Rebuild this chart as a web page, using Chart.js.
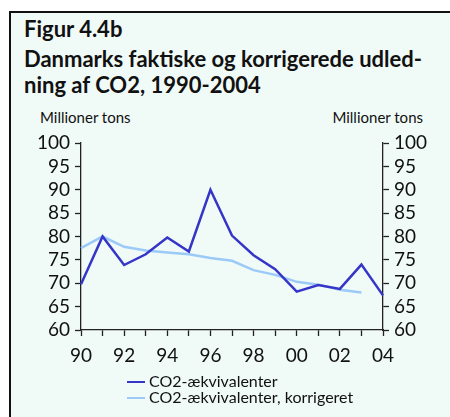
<!DOCTYPE html>
<html>
<head>
<meta charset="utf-8">
<script src="https://cdn.jsdelivr.net/npm/chart.js@4"></script>
<style>
  body { margin: 0; width: 450px; height: 417px; background: #fff; position: relative; overflow: hidden; font-family: Lato, sans-serif; }
  #panel { position: absolute; left: 9px; top: 11px; width: 441px; height: 406px; border-top: 2px solid #111; border-left: 2px solid #111; background: #f0faf7; }
  .title { position: absolute; left: 24px; font-weight: bold; font-size: 22px; color: #111; line-height: 26px; }
  .unit { position: absolute; top: 108px; font-size: 15px; color: #111; }
  #chartWrap { position: absolute; left: 0; top: 0; width: 450px; height: 417px; }
  .leg { position: absolute; left: 127px; font-size: 16px; color: #111; }
  .leg span { display: inline-block; width: 18px; height: 2px; vertical-align: middle; margin-right: 4px; position: relative; top: -1px; }
</style>
</head>
<body>
<div id="panel"></div>
<div class="title" style="top:16px">Figur 4.4b</div>
<div class="title" style="top:46px">Danmarks faktiske og korrigerede udled-<br>ning af CO2, 1990-2004</div>
<div class="unit" style="left:40px">Millioner tons</div>
<div class="unit" style="right:27px">Millioner tons</div>
<div id="chartWrap"><canvas id="chart" width="450" height="417"></canvas></div>
<div class="leg" style="top:371px"><span style="background:#3535c8"></span>CO2-ækvivalenter</div>
<div class="leg" style="top:387px"><span style="background:#9ccaf8"></span>CO2-ækvivalenter, korrigeret</div>
<script>
// data
const years = ['90','91','92','93','94','95','96','97','98','99','00','01','02','03','04'];
const actual = [69.8, 80.0, 73.9, 76.2, 79.8, 76.8, 90.0, 80.2, 76.0, 73.0, 68.2, 69.6, 68.8, 74.0, 67.4];
const corrected = [77.5, 80.0, 77.8, 77.0, 76.6, 76.2, 75.4, 74.8, 72.8, 71.8, 70.3, 69.7, 68.6, 68.0, null];
const yTicks = [60, 65, 70, 75, 80, 85, 90, 95, 100];

const tickFont = { family: 'Lato', size: 19 };
const axisCommon = {
    min: 60, max: 100,
    afterBuildTicks: s => { s.ticks = yTicks.map(v => ({ value: v })); },
    grid: { drawOnChartArea: false, color: '#222', tickLength: 6, tickWidth: 1.3 },
    border: { color: '#222', width: 1.3 },
    ticks: { color: '#111', font: tickFont, padding: 5, autoSkip: false }
};

new Chart(document.getElementById('chart'), {
    type: 'line',
    data: {
        labels: years,
        datasets: [
            { label: 'CO2-ækvivalenter', data: actual, borderColor: '#3535c8', borderWidth: 2.5, pointRadius: 0, tension: 0, yAxisID: 'y' },
            { label: 'CO2-ækvivalenter, korrigeret', data: corrected, borderColor: '#9ccaf8', borderWidth: 2.5, pointRadius: 0, tension: 0, yAxisID: 'y' }
        ]
    },
    options: {
        responsive: false,
        animation: false,
        layout: { padding: { top: 143, bottom: 42, left: 0, right: 0 } },
        plugins: { legend: { display: false }, tooltip: { enabled: false } },
        scales: {
            x: {
                offset: false,
                grid: { drawOnChartArea: false, color: '#222', tickLength: 6, tickWidth: 1.3 },
                border: { color: '#222', width: 1.3 },
                ticks: {
                    color: '#111', font: tickFont, maxRotation: 0, autoSkip: false, padding: 8,
                    callback: (v, i) => i % 2 === 0 ? years[i] : ''
                },
                afterFit: s => { s.height = 45; }
            },
            y: Object.assign({}, axisCommon, { position: 'left', afterFit: s => { s.width = 81; } }),
            y2: Object.assign({}, axisCommon, { position: 'right', afterFit: s => { s.width = 67; } })
        }
    }
});
</script>
</body>
</html>
